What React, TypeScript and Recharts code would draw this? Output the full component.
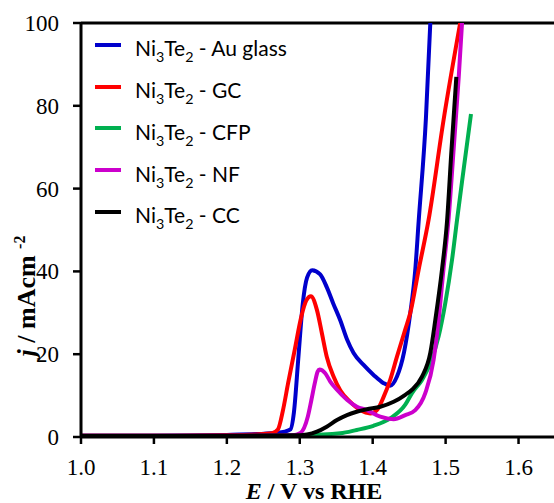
import React from 'react';
import { LineChart, Line, XAxis, YAxis, ReferenceLine, Legend } from 'recharts';

const xTicks = [1.0, 1.1, 1.2, 1.3, 1.4, 1.5, 1.6];
const yTicks = [0, 20, 40, 60, 80, 100];
const seriesLabels = ['Au glass', 'GC', 'CFP', 'NF', 'CC'];

const auE = [1.0, 1.1, 1.2, 1.24, 1.27, 1.287, 1.292, 1.298, 1.304, 1.31, 1.317, 1.328, 1.337, 1.346, 1.3555, 1.3647, 1.3738, 1.3875, 1.4012, 1.415, 1.424, 1.4333, 1.443, 1.4516, 1.4584, 1.463, 1.473, 1.479];
const auJ = [0.3, 0.3, 0.5, 0.7, 1.0, 1.8, 6, 19, 32, 38.5, 40.3, 39.3, 36.2, 32.2, 28.2, 23.6, 20.3, 17.4, 15, 13, 12.4, 14.6, 20.5, 30, 40.4, 52, 77, 100];

const gcE = [1.0, 1.1, 1.2, 1.24, 1.262, 1.27, 1.277, 1.284, 1.293, 1.302, 1.309, 1.3152, 1.3235, 1.3304, 1.337, 1.3463, 1.3555, 1.3692, 1.383, 1.3966, 1.4058, 1.415, 1.424, 1.4333, 1.4447, 1.4516, 1.463, 1.4767, 1.4973, 1.52];
const gcJ = [0.3, 0.3, 0.4, 0.6, 0.9, 1.8, 6.5, 13, 21, 29, 33, 34, 30.7, 25, 19.4, 14.6, 11.3, 8.5, 6.5, 5.7, 6.5, 9.7, 13.8, 19.4, 26, 30, 40.4, 52.5, 76.7, 100];

const cfpE = [1.0, 1.1, 1.2, 1.3, 1.3555, 1.378, 1.401, 1.424, 1.4447, 1.4539, 1.4676, 1.479, 1.4904, 1.4996, 1.5088, 1.5157, 1.5247, 1.5348];
const cfpJ = [0.2, 0.2, 0.2, 0.4, 0.9, 1.7, 2.7, 4.5, 7.8, 10.6, 13.8, 17.8, 24.3, 32.4, 42.8, 52.5, 64.6, 78];

const nfE = [1.0, 1.1, 1.2, 1.29, 1.301, 1.311, 1.316, 1.3206, 1.3245, 1.3271, 1.3349, 1.3418, 1.351, 1.3647, 1.3784, 1.392, 1.4104, 1.4287, 1.4447, 1.4584, 1.4721, 1.4835, 1.4904, 1.497, 1.504, 1.5108, 1.518, 1.5225];
const nfJ = [0.3, 0.3, 0.3, 0.4, 1.0, 4.9, 9, 13, 15.8, 16.3, 15.4, 13.4, 11.4, 9, 7.3, 6.5, 4.9, 4.3, 5.3, 6.5, 10.6, 18.6, 28.3, 40.4, 52.5, 69, 87, 100];

const ccE = [1.0, 1.1, 1.2, 1.3, 1.31, 1.3235, 1.337, 1.351, 1.3647, 1.378, 1.392, 1.4104, 1.4287, 1.4447, 1.4539, 1.4676, 1.479, 1.4859, 1.495, 1.5019, 1.5078, 1.5147];
const ccJ = [0.3, 0.3, 0.3, 0.4, 0.6, 1.3, 2.5, 4.1, 5.3, 6.1, 6.7, 7.3, 8.5, 10.2, 11.4, 14.6, 20.3, 28.3, 40.4, 52, 68.7, 87];

const zip = (e: number[], j: number[]) => e.map((v, i) => ({ E: v, j: j[i] }));

const colors = ['#0000CC', '#FF0000', '#00B050', '#CC00CC', '#000000'];
const series = [
  { name: seriesLabels[0], data: zip(auE, auJ), color: colors[0] },
  { name: seriesLabels[1], data: zip(gcE, gcJ), color: colors[1] },
  { name: seriesLabels[2], data: zip(cfpE, cfpJ), color: colors[2] },
  { name: seriesLabels[3], data: zip(nfE, nfJ), color: colors[3] },
  { name: seriesLabels[4], data: zip(ccE, ccJ), color: colors[4] },
];

const serif = '"Liberation Serif", "Times New Roman", serif';
const serifStyle = { fontFamily: serif };

const LegendContent = () => (
  <div>
    {series.map((s) => (
      <div key={s.name} style={{ display: 'flex', alignItems: 'center', height: 41.75 }}>
        <svg width={26} height={6} style={{ display: 'block' }}>
          <line x1={0} y1={3} x2={26} y2={3} stroke={s.color} strokeWidth={4} />
        </svg>
        <span style={{ marginLeft: 14, fontFamily: 'Lato, "Open Sans", sans-serif', fontSize: 21, lineHeight: 1, color: '#000', position: 'relative', top: 3, whiteSpace: 'nowrap' }}>
          Ni<sub style={{ fontSize: '0.68em', verticalAlign: '-6px', lineHeight: 0 }}>3</sub>Te<sub style={{ fontSize: '0.68em', verticalAlign: '-6px', lineHeight: 0 }}>2</sub> - {s.name}
        </span>
      </div>
    ))}
  </div>
);

const XTick = (props: any) => {
  const { x, y, payload } = props;
  return (
    <g>
      <text x={x} y={y} dy={16} textAnchor="middle" style={serifStyle} fontSize={23} fill="#000">
        {Number(payload.value).toFixed(1)}
      </text>
    </g>
  );
};

const YTick = (props: any) => {
  const { x, y, payload } = props;
  return (
    <g>
      <text x={x} y={y} dy={8} textAnchor="end" style={serifStyle} fontSize={23} fill="#000">
        {String(payload.value)}
      </text>
    </g>
  );
};

const YLabel = () => (
  <text transform="translate(35, 296) rotate(-90)" textAnchor="middle" style={serifStyle} fontWeight="bold" fontSize={26} fill="#000">
    <tspan fontStyle="italic">j</tspan>
    <tspan> / mAcm </tspan>
    <tspan fontSize={16} dy={-10}>-2</tspan>
  </text>
);

const XLabel = () => (
  <text x={314} y={499} textAnchor="middle" style={serifStyle} fontWeight="bold" fontSize={24} fill="#000">
    <tspan fontStyle="italic">E</tspan>
    <tspan> / V vs RHE</tspan>
  </text>
);

export default function App() {
  return (
    <div style={{ position: 'absolute', left: 0, top: 0, background: '#fff', fontFamily: serif }}>
      <LineChart width={556} height={503} margin={{ top: 23, right: 1, bottom: 0, left: 0 }} style={serifStyle}>
        <XAxis
          type="number"
          dataKey="E"
          domain={[1.0, 1.65]}
          ticks={xTicks}
          allowDataOverflow
          height={66}
          tickSize={7}
          tickMargin={15}
          axisLine={{ stroke: '#000', strokeWidth: 3 }}
          tickLine={{ stroke: '#000', strokeWidth: 2.5 }}
          tick={XTick}
          label={<XLabel />}
        />
        <YAxis
          type="number"
          domain={[0, 100]}
          ticks={yTicks}
          allowDataOverflow
          width={81}
          tickSize={8}
          tickMargin={14}
          axisLine={{ stroke: '#000', strokeWidth: 3 }}
          tickLine={{ stroke: '#000', strokeWidth: 2.5 }}
          tick={YTick}
          label={<YLabel />}
        />
        <ReferenceLine y={100} stroke="#000" strokeWidth={3} />
        {series.map((s) => (
          <Line
            key={s.name}
            data={s.data}
            dataKey="j"
            name={s.name}
            type="monotone"
            stroke={s.color}
            strokeWidth={4}
            dot={false}
            activeDot={false}
            isAnimationActive={false}
          />
        ))}
        <Legend
          layout="vertical"
          align="center"
          verticalAlign="middle"
          wrapperStyle={{ top: 24, left: 95, width: 230, height: 'auto' }}
          content={<LegendContent />}
        />
      </LineChart>
    </div>
  );
}
